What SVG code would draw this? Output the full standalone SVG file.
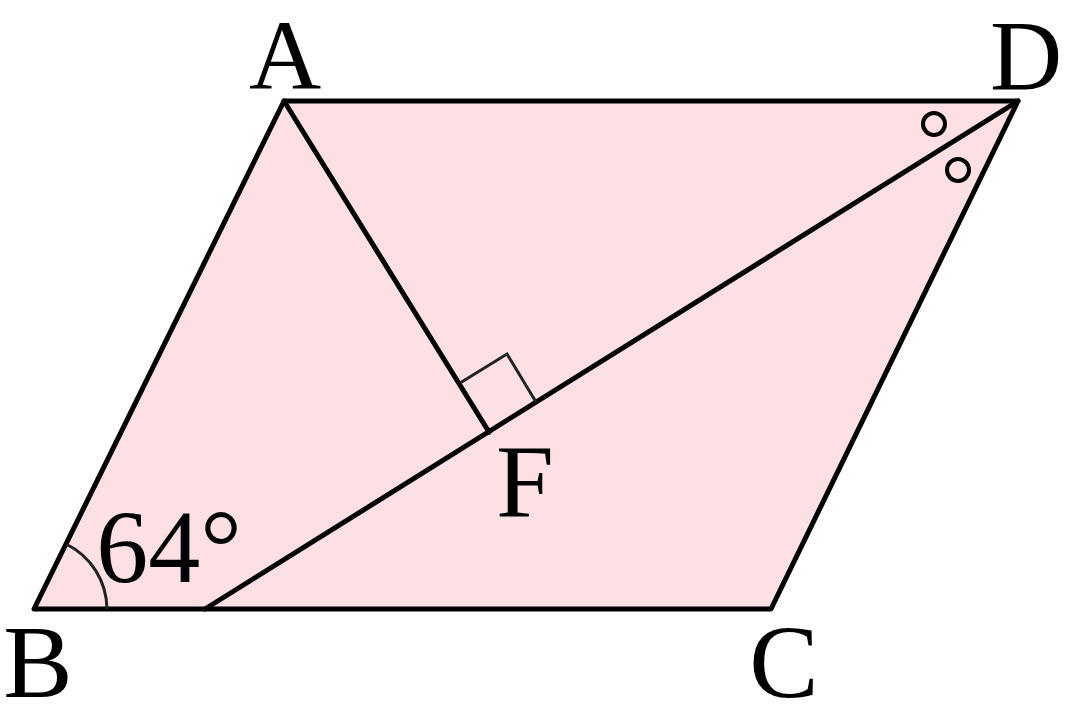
<svg xmlns="http://www.w3.org/2000/svg" width="1067" height="728" viewBox="0 0 1067 728">
<style>
.edge{stroke:#000;stroke-width:5;fill:none;stroke-linecap:round;stroke-linejoin:round}
.thin{stroke:#222;stroke-width:3;fill:none}
.ring{stroke:#000;stroke-width:4;fill:none}
.lbl{font-family:"Liberation Serif","DejaVu Serif",serif;font-size:104px;fill:#000;text-anchor:middle}
.top{font-size:100px}
</style>
<rect width="1067" height="728" fill="#fff"/>
<g id="parallelogram">
<polygon points="284,101 1018,101 771,609 34,609" fill="#fde0e4" stroke="#000" stroke-width="5" stroke-linejoin="round"/>
</g>
<g id="connectors">
<line class="edge" x1="1018" y1="101" x2="205" y2="609"/>
<line class="edge" x1="284" y1="101" x2="489" y2="432"/>
</g>
<g id="marks">
<polyline class="thin" points="460,383 507,354 536,402"/>
<path class="thin" d="M107,609 A73,73 0 0 0 66,544"/>
<circle class="ring" cx="934" cy="124" r="11"/>
<circle class="ring" cx="958" cy="170" r="11"/>
</g>
<g id="label-A"><text class="lbl top" x="285" y="89">A</text></g>
<g id="label-D"><text class="lbl top" x="1026" y="89">D</text></g>
<g id="label-B"><text class="lbl" x="38" y="697">B</text></g>
<g id="label-C"><text class="lbl" x="784" y="697">C</text></g>
<g id="label-F"><text class="lbl" x="525" y="516">F</text></g>
<g id="label-angle"><text class="lbl" x="169" y="582">64°</text></g>
</svg>
